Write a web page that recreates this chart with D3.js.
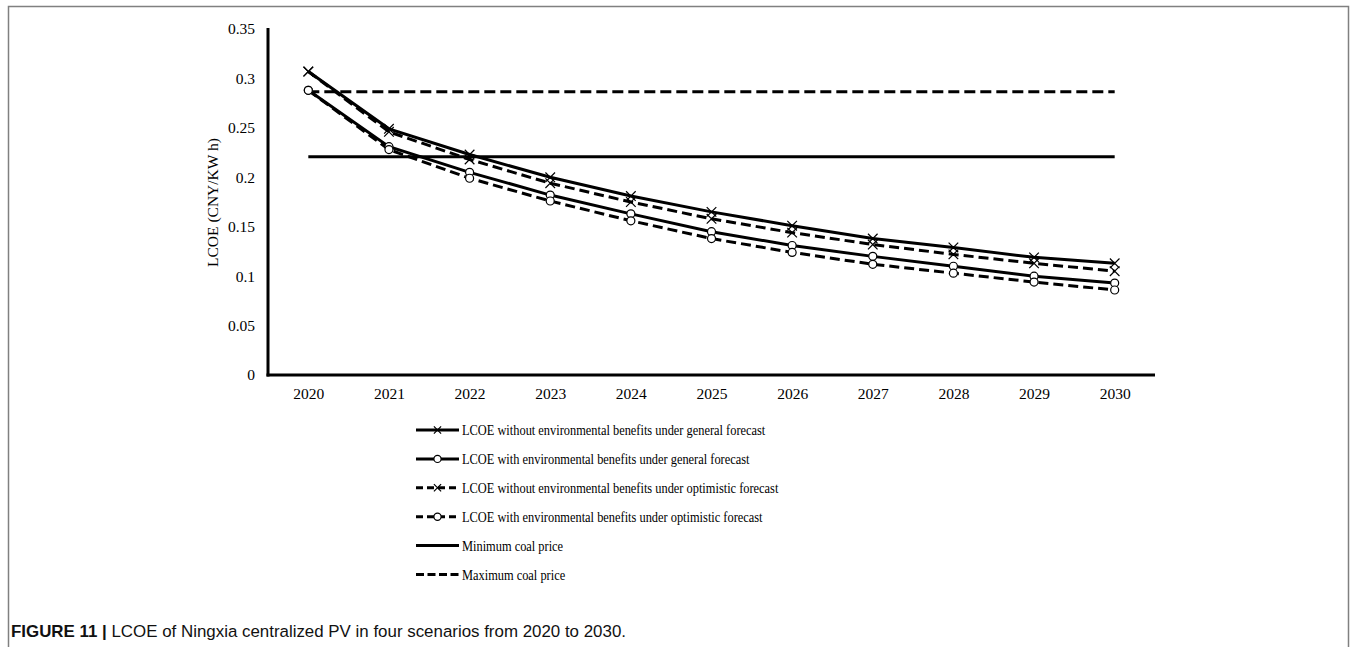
<!DOCTYPE html>
<html>
<head>
<meta charset="utf-8">
<script src="https://cdn.jsdelivr.net/npm/d3@7"></script>
<style>
  html, body { margin: 0; padding: 0; background: #fff; }
  svg { display: block; }
</style>
</head>
<body>
<svg id="chart" width="1356" height="647"></svg>
<script>
const years = ["2020","2021","2022","2023","2024","2025","2026","2027","2028","2029","2030"];
const withoutEnvGeneral    = [0.307, 0.249, 0.223, 0.200, 0.181, 0.165, 0.151, 0.138, 0.129, 0.119, 0.113];
const withEnvGeneral       = [0.288, 0.231, 0.205, 0.182, 0.163, 0.145, 0.131, 0.120, 0.110, 0.100, 0.093];
const withoutEnvOptimistic = [0.307, 0.246, 0.218, 0.194, 0.175, 0.158, 0.144, 0.132, 0.122, 0.113, 0.105];
const withEnvOptimistic    = [0.288, 0.228, 0.199, 0.176, 0.156, 0.138, 0.124, 0.112, 0.103, 0.094, 0.086];
const minCoalPrice = 0.2208;
const maxCoalPrice = 0.2865;
const yTicks = [0, 0.05, 0.1, 0.15, 0.2, 0.25, 0.3, 0.35];
const legendLabels = [
  "LCOE without environmental benefits under general forecast",
  "LCOE with environmental benefits under general forecast",
  "LCOE without environmental benefits under optimistic forecast",
  "LCOE with environmental benefits under optimistic forecast",
  "Minimum coal price",
  "Maximum coal price"
];
const yTitle = "LCOE (CNY/KW h)";
const captionBold = "FIGURE 11 |";
const captionText = " LCOE of Ningxia centralized PV in four scenarios from 2020 to 2030.";

(function () {
const svg = d3.select("#chart");
const serif = "'Liberation Serif', 'Times New Roman', serif";

// frame
svg.append("path")
  .attr("d", "M8.5,660 V6.5 H1348.5 V660")
  .attr("fill", "none").attr("stroke", "#808080").attr("stroke-width", 1.5);

const pLeft = 268, pRight = 1155, pTop = 29, pBottom = 375;
const x = d3.scalePoint().domain(years).range([pLeft, pRight]).padding(0.5);
const y = d3.scaleLinear().domain([0, 0.35]).range([pBottom, pTop]);

// y axis
const yAxis = svg.append("g").attr("transform", `translate(${pLeft},0)`)
  .call(d3.axisLeft(y).tickValues(yTicks).tickSize(0).tickPadding(13)
    .tickFormat(d => String(+d.toFixed(2))));
yAxis.select(".domain").remove();
yAxis.selectAll("text").attr("font-family", serif).attr("font-size", 15.5).attr("fill", "#000");

// x axis
const xAxis = svg.append("g").attr("transform", `translate(0,${pBottom})`)
  .call(d3.axisBottom(x).tickSize(0).tickPadding(13));
xAxis.select(".domain").remove();
xAxis.selectAll("text").attr("font-family", serif).attr("font-size", 15.5).attr("fill", "#000");

// axis lines
svg.append("line").attr("x1", pLeft).attr("x2", pLeft).attr("y1", pTop - 1).attr("y2", pBottom + 1.5)
  .attr("stroke", "#000").attr("stroke-width", 3);
svg.append("line").attr("x1", pLeft - 1.5).attr("x2", pRight).attr("y1", pBottom).attr("y2", pBottom)
  .attr("stroke", "#000").attr("stroke-width", 3);

// y title
svg.append("text")
  .attr("transform", `translate(213,202.5) rotate(-90)`)
  .attr("text-anchor", "middle").attr("dy", "0.35em")
  .attr("font-family", serif).attr("font-size", 15.5).text(yTitle);

// coal price lines
const x0 = x(years[0]), x1 = x(years[years.length - 1]);
svg.append("line").attr("x1", x0).attr("x2", x1).attr("y1", y(minCoalPrice)).attr("y2", y(minCoalPrice))
  .attr("stroke", "#000").attr("stroke-width", 3);
svg.append("line").attr("x1", x0).attr("x2", x1).attr("y1", y(maxCoalPrice)).attr("y2", y(maxCoalPrice))
  .attr("stroke", "#000").attr("stroke-width", 3).attr("stroke-dasharray", "11,5");

const series = [
  { values: withoutEnvGeneral, dash: null, marker: "x" },
  { values: withEnvGeneral, dash: null, marker: "o" },
  { values: withoutEnvOptimistic, dash: "10,5", marker: "x" },
  { values: withEnvOptimistic, dash: "10,5", marker: "o" }
];

const line = d3.line().x((d, i) => x(years[i])).y(d => y(d));

series.forEach(s => {
  svg.append("path").datum(s.values).attr("d", line)
    .attr("fill", "none").attr("stroke", "#000").attr("stroke-width", 3)
    .attr("stroke-dasharray", s.dash);
});

function drawMarker(g, cx, cy, type, size) {
  if (type === "x") {
    const h = size;
    g.append("path").attr("d", `M${cx-h},${cy-h}L${cx+h},${cy+h}M${cx-h},${cy+h}L${cx+h},${cy-h}`)
      .attr("stroke", "#000").attr("stroke-width", 1.2).attr("fill", "none");
  } else {
    g.append("circle").attr("cx", cx).attr("cy", cy).attr("r", size)
      .attr("fill", "#fff").attr("stroke", "#000").attr("stroke-width", 1.2);
  }
}

const markers = svg.append("g");
series.forEach(s => {
  s.values.forEach((v, i) => drawMarker(markers, x(years[i]), y(v), s.marker, s.marker === "x" ? 4.8 : 4));
});

// legend
const legendStyles = [
  { dash: null, marker: "x" },
  { dash: null, marker: "o" },
  { dash: "7,4", marker: "x" },
  { dash: "7,4", marker: "o" },
  { dash: null, marker: null },
  { dash: "8,3.5", marker: null }
];
const lg = svg.append("g");
legendLabels.forEach((label, i) => {
  const ly = 430 + i * 28.9;
  lg.append("line").attr("x1", 416).attr("x2", 459).attr("y1", ly).attr("y2", ly)
    .attr("stroke", "#000").attr("stroke-width", 3).attr("stroke-dasharray", legendStyles[i].dash);
  if (legendStyles[i].marker) drawMarker(lg, 437.5, ly, legendStyles[i].marker, 3.6);
  lg.append("text").attr("transform", `translate(462,${ly}) scale(0.8,1)`).attr("dy", "0.33em")
    .attr("font-family", serif).attr("font-size", 15.5).text(label);
});

// caption
const cap = svg.append("text").attr("x", 11).attr("y", 637)
  .attr("font-family", "'Liberation Sans', Arial, sans-serif").attr("font-size", 16.9).attr("fill", "#111");
cap.append("tspan").attr("font-weight", "bold").text(captionBold);
cap.append("tspan").text(captionText);
})();
</script>
</body>
</html>
